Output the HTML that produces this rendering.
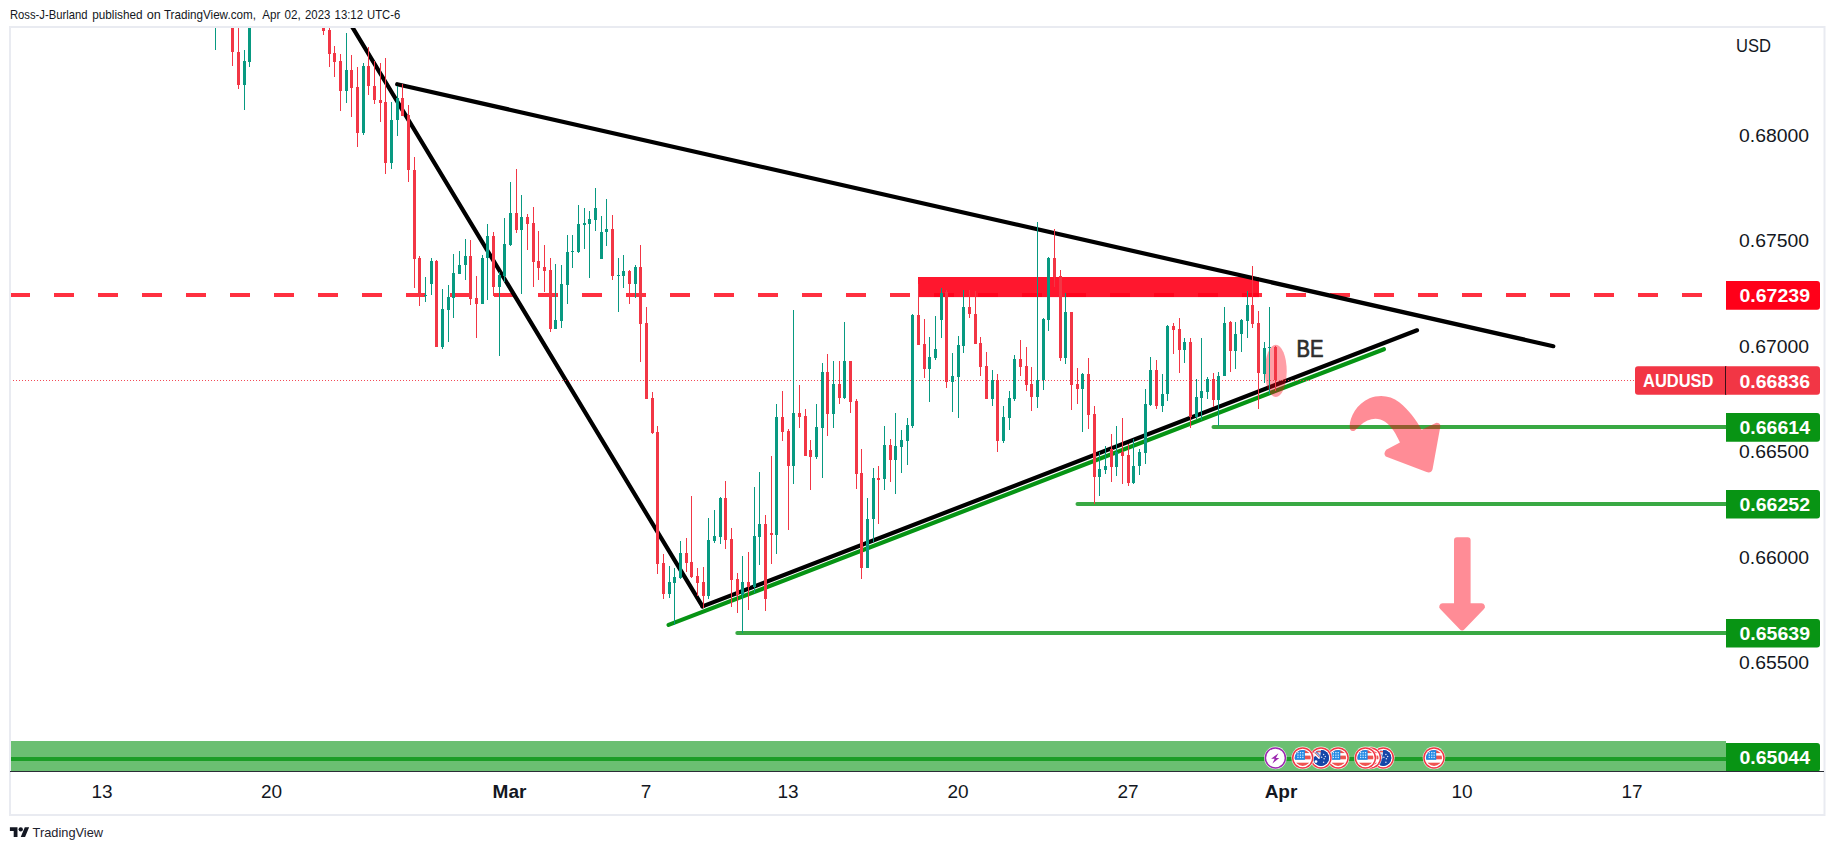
<!DOCTYPE html>
<html lang="en"><head><meta charset="utf-8"><title>AUDUSD chart</title>
<style>html,body{margin:0;padding:0;background:#fff}body{width:1834px;height:850px;overflow:hidden}svg{display:block}text{font-family:"Liberation Sans", Arial, sans-serif}</style></head><body>
<svg width="1834" height="850" viewBox="0 0 1834 850">
<rect width="1834" height="850" fill="#fff"/>
<defs><clipPath id="cp"><rect x="11" y="28" width="1715" height="743"/></clipPath><clipPath id="cl"><rect x="1620" y="28" width="203" height="743"/></clipPath><clipPath id="fc"><circle r="8"/></clipPath></defs>
<text x="10.0" y="19.4" font-size="13" fill="#131722" textLength="77.5" lengthAdjust="spacingAndGlyphs">Ross-J-Burland</text>
<text x="92.2" y="19.4" font-size="13" fill="#131722" textLength="50.3" lengthAdjust="spacingAndGlyphs">published</text>
<text x="146.7" y="19.4" font-size="13" fill="#131722" textLength="14.1" lengthAdjust="spacingAndGlyphs">on</text>
<text x="163.9" y="19.4" font-size="13" fill="#131722" textLength="92.0" lengthAdjust="spacingAndGlyphs">TradingView.com,</text>
<text x="262.3" y="19.4" font-size="13" fill="#131722" textLength="18.0" lengthAdjust="spacingAndGlyphs">Apr</text>
<text x="284.5" y="19.4" font-size="13" fill="#131722" textLength="16.2" lengthAdjust="spacingAndGlyphs">02,</text>
<text x="305.0" y="19.4" font-size="13" fill="#131722" textLength="25.3" lengthAdjust="spacingAndGlyphs">2023</text>
<text x="334.6" y="19.4" font-size="13" fill="#131722" textLength="28.4" lengthAdjust="spacingAndGlyphs">13:12</text>
<text x="367.0" y="19.4" font-size="13" fill="#131722" textLength="33.2" lengthAdjust="spacingAndGlyphs">UTC-6</text>
<rect x="10" y="27" width="1814.5" height="788" fill="none" stroke="#e9ebf1" stroke-width="2"/>
<g clip-path="url(#cp)">
<rect x="10.5" y="741" width="1716" height="30" fill="#6bbf72"/>
<rect x="10.5" y="757" width="1716" height="4" fill="#1c9d27"/>
<line x1="10" y1="295" x2="1703" y2="295" stroke="#ff3040" stroke-width="4" stroke-dasharray="20 24"/>
<rect x="918" y="277" width="341" height="20.1" fill="rgba(255,0,25,0.91)"/>
<g fill="none" stroke-linecap="round">
<line x1="338.7" y1="4.6" x2="702.5" y2="606.4" stroke="#000" stroke-width="4.2"/>
<line x1="702.5" y1="606.4" x2="1417" y2="330.3" stroke="#000" stroke-width="4.2"/>
<line x1="397.2" y1="84.2" x2="1553.3" y2="346.2" stroke="#000" stroke-width="4.2"/>
<line x1="668.6" y1="624.9" x2="1383.9" y2="349.2" stroke="#069414" stroke-width="4.2"/>
</g>
<g stroke="#39a943" stroke-width="4" stroke-linecap="round">
<line x1="1213.5" y1="427" x2="1727" y2="427"/>
<line x1="1077.5" y1="504" x2="1727" y2="504"/>
<line x1="737.3" y1="633" x2="1727" y2="633"/>
</g>
<ellipse cx="1275.8" cy="370.9" rx="10.9" ry="26.2" fill="rgba(255,0,22,0.38)"/>
<line x1="10" y1="380.5" x2="1636" y2="380.5" stroke="#f23645" stroke-width="1" stroke-dasharray="1 2" stroke-opacity="0.9"/>
<g shape-rendering="crispEdges">
<rect x="215" y="20" width="1" height="30" fill="#089981"/>
<rect x="214" y="20" width="3" height="1" fill="#089981"/>
<rect x="232" y="20" width="1" height="46" fill="#f23645"/>
<rect x="231" y="20" width="3" height="32" fill="#f23645"/>
<rect x="238" y="20" width="1" height="69" fill="#f23645"/>
<rect x="237" y="52" width="3" height="33" fill="#f23645"/>
<rect x="244" y="50" width="1" height="60" fill="#089981"/>
<rect x="243" y="61" width="3" height="24" fill="#089981"/>
<rect x="249" y="20" width="1" height="47" fill="#089981"/>
<rect x="248" y="20" width="3" height="42" fill="#089981"/>
<rect x="323" y="20" width="1" height="15" fill="#f23645"/>
<rect x="322" y="20" width="3" height="11" fill="#f23645"/>
<rect x="329" y="20" width="1" height="47" fill="#f23645"/>
<rect x="328" y="30" width="3" height="24" fill="#f23645"/>
<rect x="334" y="46" width="1" height="31" fill="#f23645"/>
<rect x="333" y="53" width="3" height="9" fill="#f23645"/>
<rect x="340" y="54" width="1" height="57" fill="#f23645"/>
<rect x="339" y="61" width="3" height="30" fill="#f23645"/>
<rect x="346" y="33" width="1" height="70" fill="#089981"/>
<rect x="345" y="70" width="3" height="21" fill="#089981"/>
<rect x="351" y="55" width="1" height="62" fill="#f23645"/>
<rect x="350" y="70" width="3" height="18" fill="#f23645"/>
<rect x="357" y="67" width="1" height="80" fill="#f23645"/>
<rect x="356" y="87" width="3" height="46" fill="#f23645"/>
<rect x="363" y="63" width="1" height="72" fill="#089981"/>
<rect x="362" y="66" width="3" height="67" fill="#089981"/>
<rect x="368" y="47" width="1" height="48" fill="#f23645"/>
<rect x="367" y="66" width="3" height="20" fill="#f23645"/>
<rect x="374" y="61" width="1" height="43" fill="#f23645"/>
<rect x="373" y="86" width="3" height="14" fill="#f23645"/>
<rect x="380" y="63" width="1" height="59" fill="#f23645"/>
<rect x="379" y="100" width="3" height="3" fill="#f23645"/>
<rect x="385" y="58" width="1" height="116" fill="#f23645"/>
<rect x="384" y="102" width="3" height="61" fill="#f23645"/>
<rect x="391" y="102" width="1" height="67" fill="#089981"/>
<rect x="390" y="120" width="3" height="43" fill="#089981"/>
<rect x="397" y="86" width="1" height="50" fill="#089981"/>
<rect x="396" y="98" width="3" height="22" fill="#089981"/>
<rect x="402" y="84" width="1" height="32" fill="#f23645"/>
<rect x="401" y="98" width="3" height="18" fill="#f23645"/>
<rect x="408" y="105" width="1" height="77" fill="#f23645"/>
<rect x="407" y="115" width="3" height="55" fill="#f23645"/>
<rect x="414" y="157" width="1" height="131" fill="#f23645"/>
<rect x="413" y="170" width="3" height="89" fill="#f23645"/>
<rect x="419" y="256" width="1" height="50" fill="#f23645"/>
<rect x="418" y="258" width="3" height="38" fill="#f23645"/>
<rect x="425" y="277" width="1" height="25" fill="#089981"/>
<rect x="424" y="295" width="3" height="1" fill="#089981"/>
<rect x="431" y="258" width="1" height="37" fill="#089981"/>
<rect x="430" y="261" width="3" height="23" fill="#089981"/>
<rect x="436" y="260" width="1" height="87" fill="#f23645"/>
<rect x="435" y="261" width="3" height="86" fill="#f23645"/>
<rect x="442" y="289" width="1" height="60" fill="#089981"/>
<rect x="441" y="309" width="3" height="38" fill="#089981"/>
<rect x="448" y="285" width="1" height="57" fill="#089981"/>
<rect x="447" y="297" width="3" height="13" fill="#089981"/>
<rect x="453" y="254" width="1" height="64" fill="#089981"/>
<rect x="452" y="273" width="3" height="25" fill="#089981"/>
<rect x="459" y="251" width="1" height="23" fill="#089981"/>
<rect x="458" y="265" width="3" height="9" fill="#089981"/>
<rect x="465" y="239" width="1" height="41" fill="#089981"/>
<rect x="464" y="256" width="3" height="9" fill="#089981"/>
<rect x="470" y="240" width="1" height="65" fill="#f23645"/>
<rect x="469" y="256" width="3" height="43" fill="#f23645"/>
<rect x="476" y="276" width="1" height="62" fill="#f23645"/>
<rect x="475" y="298" width="3" height="6" fill="#f23645"/>
<rect x="482" y="255" width="1" height="49" fill="#089981"/>
<rect x="481" y="258" width="3" height="46" fill="#089981"/>
<rect x="487" y="224" width="1" height="76" fill="#089981"/>
<rect x="486" y="236" width="3" height="22" fill="#089981"/>
<rect x="493" y="232" width="1" height="64" fill="#f23645"/>
<rect x="492" y="236" width="3" height="51" fill="#f23645"/>
<rect x="499" y="272" width="1" height="84" fill="#089981"/>
<rect x="498" y="275" width="3" height="12" fill="#089981"/>
<rect x="504" y="218" width="1" height="64" fill="#089981"/>
<rect x="503" y="244" width="3" height="32" fill="#089981"/>
<rect x="510" y="182" width="1" height="64" fill="#089981"/>
<rect x="509" y="213" width="3" height="32" fill="#089981"/>
<rect x="516" y="169" width="1" height="64" fill="#f23645"/>
<rect x="515" y="213" width="3" height="17" fill="#f23645"/>
<rect x="521" y="195" width="1" height="99" fill="#089981"/>
<rect x="520" y="217" width="3" height="13" fill="#089981"/>
<rect x="527" y="214" width="1" height="36" fill="#f23645"/>
<rect x="526" y="217" width="3" height="7" fill="#f23645"/>
<rect x="533" y="207" width="1" height="80" fill="#f23645"/>
<rect x="532" y="223" width="3" height="39" fill="#f23645"/>
<rect x="538" y="231" width="1" height="49" fill="#f23645"/>
<rect x="537" y="261" width="3" height="7" fill="#f23645"/>
<rect x="544" y="245" width="1" height="47" fill="#f23645"/>
<rect x="543" y="267" width="3" height="4" fill="#f23645"/>
<rect x="550" y="258" width="1" height="74" fill="#f23645"/>
<rect x="549" y="270" width="3" height="59" fill="#f23645"/>
<rect x="555" y="264" width="1" height="65" fill="#089981"/>
<rect x="554" y="320" width="3" height="9" fill="#089981"/>
<rect x="561" y="265" width="1" height="63" fill="#089981"/>
<rect x="560" y="284" width="3" height="37" fill="#089981"/>
<rect x="567" y="235" width="1" height="69" fill="#089981"/>
<rect x="566" y="252" width="3" height="33" fill="#089981"/>
<rect x="572" y="235" width="1" height="33" fill="#089981"/>
<rect x="571" y="251" width="3" height="1" fill="#089981"/>
<rect x="578" y="205" width="1" height="48" fill="#089981"/>
<rect x="577" y="224" width="3" height="28" fill="#089981"/>
<rect x="584" y="208" width="1" height="41" fill="#089981"/>
<rect x="583" y="223" width="3" height="2" fill="#089981"/>
<rect x="589" y="211" width="1" height="67" fill="#089981"/>
<rect x="588" y="219" width="3" height="5" fill="#089981"/>
<rect x="595" y="188" width="1" height="43" fill="#089981"/>
<rect x="594" y="208" width="3" height="12" fill="#089981"/>
<rect x="601" y="216" width="1" height="43" fill="#089981"/>
<rect x="600" y="232" width="3" height="27" fill="#089981"/>
<rect x="606" y="199" width="1" height="47" fill="#089981"/>
<rect x="605" y="229" width="3" height="3" fill="#089981"/>
<rect x="612" y="215" width="1" height="65" fill="#f23645"/>
<rect x="611" y="229" width="3" height="47" fill="#f23645"/>
<rect x="618" y="258" width="1" height="54" fill="#089981"/>
<rect x="617" y="275" width="3" height="1" fill="#089981"/>
<rect x="623" y="255" width="1" height="33" fill="#089981"/>
<rect x="622" y="271" width="3" height="5" fill="#089981"/>
<rect x="629" y="270" width="1" height="34" fill="#f23645"/>
<rect x="628" y="271" width="3" height="13" fill="#f23645"/>
<rect x="635" y="265" width="1" height="33" fill="#089981"/>
<rect x="634" y="267" width="3" height="17" fill="#089981"/>
<rect x="640" y="245" width="1" height="117" fill="#f23645"/>
<rect x="639" y="267" width="3" height="57" fill="#f23645"/>
<rect x="646" y="307" width="1" height="92" fill="#f23645"/>
<rect x="645" y="323" width="3" height="76" fill="#f23645"/>
<rect x="652" y="392" width="1" height="42" fill="#f23645"/>
<rect x="651" y="398" width="3" height="35" fill="#f23645"/>
<rect x="657" y="426" width="1" height="148" fill="#f23645"/>
<rect x="656" y="432" width="3" height="132" fill="#f23645"/>
<rect x="663" y="554" width="1" height="45" fill="#f23645"/>
<rect x="662" y="563" width="3" height="31" fill="#f23645"/>
<rect x="669" y="566" width="1" height="32" fill="#089981"/>
<rect x="668" y="582" width="3" height="12" fill="#089981"/>
<rect x="674" y="568" width="1" height="57" fill="#089981"/>
<rect x="673" y="577" width="3" height="6" fill="#089981"/>
<rect x="680" y="541" width="1" height="38" fill="#089981"/>
<rect x="679" y="553" width="3" height="25" fill="#089981"/>
<rect x="686" y="538" width="1" height="34" fill="#f23645"/>
<rect x="685" y="553" width="3" height="10" fill="#f23645"/>
<rect x="691" y="496" width="1" height="82" fill="#f23645"/>
<rect x="690" y="562" width="3" height="15" fill="#f23645"/>
<rect x="697" y="568" width="1" height="28" fill="#f23645"/>
<rect x="696" y="576" width="3" height="7" fill="#f23645"/>
<rect x="703" y="567" width="1" height="41" fill="#f23645"/>
<rect x="702" y="582" width="3" height="14" fill="#f23645"/>
<rect x="708" y="518" width="1" height="81" fill="#089981"/>
<rect x="707" y="540" width="3" height="56" fill="#089981"/>
<rect x="714" y="510" width="1" height="33" fill="#089981"/>
<rect x="713" y="536" width="3" height="5" fill="#089981"/>
<rect x="720" y="497" width="1" height="47" fill="#089981"/>
<rect x="719" y="498" width="3" height="39" fill="#089981"/>
<rect x="725" y="481" width="1" height="68" fill="#f23645"/>
<rect x="724" y="498" width="3" height="42" fill="#f23645"/>
<rect x="731" y="528" width="1" height="79" fill="#f23645"/>
<rect x="730" y="539" width="3" height="41" fill="#f23645"/>
<rect x="737" y="573" width="1" height="40" fill="#f23645"/>
<rect x="736" y="579" width="3" height="16" fill="#f23645"/>
<rect x="742" y="556" width="1" height="77" fill="#089981"/>
<rect x="741" y="582" width="3" height="13" fill="#089981"/>
<rect x="748" y="552" width="1" height="58" fill="#f23645"/>
<rect x="747" y="582" width="3" height="5" fill="#f23645"/>
<rect x="754" y="487" width="1" height="106" fill="#089981"/>
<rect x="753" y="536" width="3" height="51" fill="#089981"/>
<rect x="759" y="472" width="1" height="93" fill="#089981"/>
<rect x="758" y="524" width="3" height="13" fill="#089981"/>
<rect x="765" y="515" width="1" height="96" fill="#f23645"/>
<rect x="764" y="524" width="3" height="75" fill="#f23645"/>
<rect x="771" y="456" width="1" height="108" fill="#f23645"/>
<rect x="770" y="533" width="3" height="2" fill="#f23645"/>
<rect x="776" y="404" width="1" height="150" fill="#089981"/>
<rect x="775" y="417" width="3" height="118" fill="#089981"/>
<rect x="782" y="391" width="1" height="50" fill="#f23645"/>
<rect x="781" y="417" width="3" height="15" fill="#f23645"/>
<rect x="788" y="429" width="1" height="101" fill="#f23645"/>
<rect x="787" y="431" width="3" height="35" fill="#f23645"/>
<rect x="793" y="310" width="1" height="174" fill="#089981"/>
<rect x="792" y="413" width="3" height="53" fill="#089981"/>
<rect x="799" y="385" width="1" height="43" fill="#f23645"/>
<rect x="798" y="413" width="3" height="4" fill="#f23645"/>
<rect x="805" y="409" width="1" height="47" fill="#f23645"/>
<rect x="804" y="416" width="3" height="40" fill="#f23645"/>
<rect x="810" y="440" width="1" height="50" fill="#f23645"/>
<rect x="809" y="450" width="3" height="7" fill="#f23645"/>
<rect x="816" y="404" width="1" height="55" fill="#089981"/>
<rect x="815" y="427" width="3" height="30" fill="#089981"/>
<rect x="822" y="363" width="1" height="115" fill="#089981"/>
<rect x="821" y="372" width="3" height="56" fill="#089981"/>
<rect x="827" y="354" width="1" height="82" fill="#f23645"/>
<rect x="826" y="372" width="3" height="42" fill="#f23645"/>
<rect x="833" y="361" width="1" height="67" fill="#089981"/>
<rect x="832" y="384" width="3" height="30" fill="#089981"/>
<rect x="839" y="361" width="1" height="43" fill="#f23645"/>
<rect x="838" y="384" width="3" height="14" fill="#f23645"/>
<rect x="844" y="322" width="1" height="77" fill="#089981"/>
<rect x="843" y="361" width="3" height="37" fill="#089981"/>
<rect x="850" y="361" width="1" height="52" fill="#f23645"/>
<rect x="849" y="361" width="3" height="41" fill="#f23645"/>
<rect x="856" y="399" width="1" height="90" fill="#f23645"/>
<rect x="855" y="401" width="3" height="73" fill="#f23645"/>
<rect x="861" y="449" width="1" height="130" fill="#f23645"/>
<rect x="860" y="473" width="3" height="95" fill="#f23645"/>
<rect x="867" y="498" width="1" height="70" fill="#089981"/>
<rect x="866" y="519" width="3" height="49" fill="#089981"/>
<rect x="873" y="468" width="1" height="74" fill="#089981"/>
<rect x="872" y="478" width="3" height="41" fill="#089981"/>
<rect x="878" y="466" width="1" height="58" fill="#f23645"/>
<rect x="877" y="478" width="3" height="2" fill="#f23645"/>
<rect x="884" y="426" width="1" height="64" fill="#089981"/>
<rect x="883" y="445" width="3" height="34" fill="#089981"/>
<rect x="890" y="439" width="1" height="43" fill="#f23645"/>
<rect x="889" y="445" width="3" height="15" fill="#f23645"/>
<rect x="895" y="413" width="1" height="81" fill="#089981"/>
<rect x="894" y="446" width="3" height="14" fill="#089981"/>
<rect x="901" y="430" width="1" height="43" fill="#089981"/>
<rect x="900" y="440" width="3" height="7" fill="#089981"/>
<rect x="907" y="418" width="1" height="47" fill="#089981"/>
<rect x="906" y="425" width="3" height="16" fill="#089981"/>
<rect x="912" y="314" width="1" height="114" fill="#089981"/>
<rect x="911" y="315" width="3" height="111" fill="#089981"/>
<rect x="918" y="284" width="1" height="61" fill="#f23645"/>
<rect x="917" y="315" width="3" height="30" fill="#f23645"/>
<rect x="924" y="319" width="1" height="59" fill="#f23645"/>
<rect x="923" y="344" width="3" height="25" fill="#f23645"/>
<rect x="929" y="337" width="1" height="65" fill="#089981"/>
<rect x="928" y="357" width="3" height="12" fill="#089981"/>
<rect x="935" y="316" width="1" height="44" fill="#089981"/>
<rect x="934" y="349" width="3" height="9" fill="#089981"/>
<rect x="941" y="288" width="1" height="50" fill="#089981"/>
<rect x="940" y="293" width="3" height="27" fill="#089981"/>
<rect x="946" y="290" width="1" height="98" fill="#f23645"/>
<rect x="945" y="292" width="3" height="90" fill="#f23645"/>
<rect x="952" y="353" width="1" height="59" fill="#089981"/>
<rect x="951" y="376" width="3" height="6" fill="#089981"/>
<rect x="958" y="336" width="1" height="82" fill="#089981"/>
<rect x="957" y="345" width="3" height="32" fill="#089981"/>
<rect x="963" y="290" width="1" height="63" fill="#089981"/>
<rect x="962" y="307" width="3" height="39" fill="#089981"/>
<rect x="969" y="290" width="1" height="28" fill="#f23645"/>
<rect x="968" y="307" width="3" height="7" fill="#f23645"/>
<rect x="975" y="291" width="1" height="53" fill="#f23645"/>
<rect x="974" y="314" width="3" height="30" fill="#f23645"/>
<rect x="980" y="337" width="1" height="39" fill="#f23645"/>
<rect x="979" y="343" width="3" height="24" fill="#f23645"/>
<rect x="986" y="352" width="1" height="47" fill="#f23645"/>
<rect x="985" y="366" width="3" height="33" fill="#f23645"/>
<rect x="992" y="370" width="1" height="36" fill="#089981"/>
<rect x="991" y="380" width="3" height="19" fill="#089981"/>
<rect x="997" y="374" width="1" height="78" fill="#f23645"/>
<rect x="996" y="380" width="3" height="61" fill="#f23645"/>
<rect x="1003" y="406" width="1" height="37" fill="#089981"/>
<rect x="1002" y="417" width="3" height="24" fill="#089981"/>
<rect x="1009" y="391" width="1" height="39" fill="#089981"/>
<rect x="1008" y="398" width="3" height="20" fill="#089981"/>
<rect x="1014" y="355" width="1" height="46" fill="#089981"/>
<rect x="1013" y="359" width="3" height="40" fill="#089981"/>
<rect x="1020" y="340" width="1" height="36" fill="#f23645"/>
<rect x="1019" y="359" width="3" height="8" fill="#f23645"/>
<rect x="1026" y="347" width="1" height="44" fill="#f23645"/>
<rect x="1025" y="366" width="3" height="19" fill="#f23645"/>
<rect x="1031" y="367" width="1" height="44" fill="#f23645"/>
<rect x="1030" y="384" width="3" height="13" fill="#f23645"/>
<rect x="1037" y="222" width="1" height="186" fill="#089981"/>
<rect x="1036" y="380" width="3" height="17" fill="#089981"/>
<rect x="1043" y="318" width="1" height="72" fill="#089981"/>
<rect x="1042" y="319" width="3" height="61" fill="#089981"/>
<rect x="1048" y="257" width="1" height="74" fill="#089981"/>
<rect x="1047" y="258" width="3" height="62" fill="#089981"/>
<rect x="1054" y="229" width="1" height="58" fill="#f23645"/>
<rect x="1053" y="258" width="3" height="19" fill="#f23645"/>
<rect x="1060" y="270" width="1" height="91" fill="#f23645"/>
<rect x="1059" y="276" width="3" height="82" fill="#f23645"/>
<rect x="1065" y="293" width="1" height="71" fill="#089981"/>
<rect x="1064" y="312" width="3" height="46" fill="#089981"/>
<rect x="1071" y="312" width="1" height="98" fill="#f23645"/>
<rect x="1070" y="312" width="3" height="73" fill="#f23645"/>
<rect x="1077" y="368" width="1" height="36" fill="#f23645"/>
<rect x="1076" y="384" width="3" height="5" fill="#f23645"/>
<rect x="1082" y="373" width="1" height="59" fill="#089981"/>
<rect x="1081" y="374" width="3" height="15" fill="#089981"/>
<rect x="1088" y="358" width="1" height="71" fill="#f23645"/>
<rect x="1087" y="374" width="3" height="41" fill="#f23645"/>
<rect x="1094" y="406" width="1" height="98" fill="#f23645"/>
<rect x="1093" y="414" width="3" height="63" fill="#f23645"/>
<rect x="1099" y="452" width="1" height="44" fill="#089981"/>
<rect x="1098" y="469" width="3" height="8" fill="#089981"/>
<rect x="1105" y="446" width="1" height="28" fill="#089981"/>
<rect x="1104" y="466" width="3" height="4" fill="#089981"/>
<rect x="1111" y="434" width="1" height="48" fill="#f23645"/>
<rect x="1110" y="449" width="3" height="18" fill="#f23645"/>
<rect x="1116" y="426" width="1" height="50" fill="#089981"/>
<rect x="1115" y="452" width="3" height="15" fill="#089981"/>
<rect x="1122" y="418" width="1" height="66" fill="#f23645"/>
<rect x="1121" y="452" width="3" height="4" fill="#f23645"/>
<rect x="1128" y="444" width="1" height="42" fill="#f23645"/>
<rect x="1127" y="455" width="3" height="28" fill="#f23645"/>
<rect x="1133" y="439" width="1" height="45" fill="#089981"/>
<rect x="1132" y="466" width="3" height="17" fill="#089981"/>
<rect x="1139" y="449" width="1" height="26" fill="#089981"/>
<rect x="1138" y="452" width="3" height="14" fill="#089981"/>
<rect x="1145" y="389" width="1" height="75" fill="#089981"/>
<rect x="1144" y="404" width="3" height="49" fill="#089981"/>
<rect x="1150" y="357" width="1" height="49" fill="#089981"/>
<rect x="1149" y="370" width="3" height="35" fill="#089981"/>
<rect x="1156" y="360" width="1" height="49" fill="#f23645"/>
<rect x="1155" y="370" width="3" height="36" fill="#f23645"/>
<rect x="1162" y="374" width="1" height="38" fill="#089981"/>
<rect x="1161" y="394" width="3" height="12" fill="#089981"/>
<rect x="1167" y="325" width="1" height="76" fill="#089981"/>
<rect x="1166" y="326" width="3" height="68" fill="#089981"/>
<rect x="1173" y="323" width="1" height="31" fill="#f23645"/>
<rect x="1172" y="326" width="3" height="4" fill="#f23645"/>
<rect x="1179" y="318" width="1" height="55" fill="#f23645"/>
<rect x="1178" y="329" width="3" height="21" fill="#f23645"/>
<rect x="1184" y="338" width="1" height="25" fill="#089981"/>
<rect x="1183" y="342" width="3" height="8" fill="#089981"/>
<rect x="1190" y="338" width="1" height="90" fill="#f23645"/>
<rect x="1189" y="342" width="3" height="75" fill="#f23645"/>
<rect x="1196" y="379" width="1" height="40" fill="#089981"/>
<rect x="1195" y="397" width="3" height="20" fill="#089981"/>
<rect x="1201" y="338" width="1" height="82" fill="#089981"/>
<rect x="1200" y="391" width="3" height="7" fill="#089981"/>
<rect x="1207" y="377" width="1" height="22" fill="#089981"/>
<rect x="1206" y="379" width="3" height="13" fill="#089981"/>
<rect x="1213" y="373" width="1" height="34" fill="#f23645"/>
<rect x="1212" y="379" width="3" height="21" fill="#f23645"/>
<rect x="1218" y="372" width="1" height="54" fill="#089981"/>
<rect x="1217" y="376" width="3" height="24" fill="#089981"/>
<rect x="1224" y="307" width="1" height="69" fill="#089981"/>
<rect x="1223" y="323" width="3" height="53" fill="#089981"/>
<rect x="1230" y="321" width="1" height="51" fill="#f23645"/>
<rect x="1229" y="322" width="3" height="29" fill="#f23645"/>
<rect x="1235" y="322" width="1" height="47" fill="#089981"/>
<rect x="1234" y="334" width="3" height="17" fill="#089981"/>
<rect x="1241" y="319" width="1" height="33" fill="#089981"/>
<rect x="1240" y="320" width="3" height="14" fill="#089981"/>
<rect x="1247" y="291" width="1" height="47" fill="#089981"/>
<rect x="1246" y="305" width="3" height="16" fill="#089981"/>
<rect x="1252" y="266" width="1" height="62" fill="#f23645"/>
<rect x="1251" y="305" width="3" height="19" fill="#f23645"/>
<rect x="1258" y="311" width="1" height="98" fill="#f23645"/>
<rect x="1257" y="323" width="3" height="50" fill="#f23645"/>
<rect x="1264" y="342" width="1" height="41" fill="#089981"/>
<rect x="1263" y="348" width="3" height="26" fill="#089981"/>
<rect x="1269" y="307" width="1" height="87" fill="#089981"/>
<rect x="1268" y="347" width="3" height="1" fill="#089981"/>
<rect x="1275" y="346" width="1" height="45" fill="#f23645"/>
<rect x="1274" y="347" width="3" height="33" fill="#f23645"/>
</g>
<text x="1296.5" y="356.6" font-size="23" fill="#2d2d2d" stroke="#2d2d2d" stroke-width="0.7" textLength="27" lengthAdjust="spacingAndGlyphs">BE</text>
<path transform="translate(1300,370) scale(0.14177)" d="M350 400 C352 330 400 240 490 200 C560 172 640 180 700 228 C770 285 815 345 858 422 L962 372 Q992 372 990 398 L935 700 Q925 730 893 720 L605 610 Q585 590 608 562 L705 512 C680 455 650 400 600 365 C545 330 480 340 420 395 L385 428 Q352 440 350 400 Z" fill="rgba(255,0,22,0.45)"/>
<path d="M1457 537.3 h10.6 a3 3 0 0 1 3 3 v63 h11 a3.4 3.4 0 0 1 2.4 5.8 l-19.5 20.2 a3.4 3.4 0 0 1 -4.8 0 l-19.5 -20.2 a3.4 3.4 0 0 1 2.4 -5.8 h11.4 v-63 a3 3 0 0 1 3 -3 z" fill="rgba(255,0,22,0.45)"/>
</g>
<rect x="10" y="771" width="1814" height="1" fill="#2a2d36"/>
<g transform="translate(1434.0,757.9)"><circle r="11.3" fill="#fff" fill-opacity="0.85"/><circle r="10" fill="#fff" stroke="#f23645" stroke-width="1.5"/><g clip-path="url(#fc)"><rect x="-9" y="-9" width="18" height="18" fill="#fff"/><rect x="-9" y="-8.2" width="18" height="3.4" fill="#ef5350"/><rect x="-9" y="-2.3" width="18" height="3.7" fill="#ef5350"/><rect x="-9" y="4.8" width="18" height="4.2" fill="#ef5350"/><rect x="-9" y="-9" width="11.2" height="10.9" fill="#1e88e5"/><rect x="-5.4" y="-5.9" width="1.3" height="1.3" fill="#d6e9fb"/><rect x="-5.4" y="-3.4" width="1.3" height="1.3" fill="#d6e9fb"/><rect x="-5.4" y="-1.1" width="1.3" height="1.3" fill="#d6e9fb"/><rect x="-2.9" y="-5.9" width="1.3" height="1.3" fill="#d6e9fb"/><rect x="-2.9" y="-3.4" width="1.3" height="1.3" fill="#d6e9fb"/><rect x="-2.9" y="-1.1" width="1.3" height="1.3" fill="#d6e9fb"/><rect x="-0.5" y="-5.9" width="1.3" height="1.3" fill="#d6e9fb"/><rect x="-0.5" y="-3.4" width="1.3" height="1.3" fill="#d6e9fb"/><rect x="-0.5" y="-1.1" width="1.3" height="1.3" fill="#d6e9fb"/></g></g>
<g transform="translate(1383.3,757.9)"><circle r="11.3" fill="#fff" fill-opacity="0.85"/><circle r="10" fill="#fff" stroke="#f23645" stroke-width="1.5"/><g clip-path="url(#fc)"><rect x="-9" y="-9" width="18" height="18" fill="#1546a8"/><rect x="-9" y="-9" width="9" height="9" fill="#eef1f8"/><rect x="-9" y="-7" width="9" height="1.4" fill="#ef5350"/><path d="M-9 -9 h3 L0 -2 v2.5 h-2.5 L-9 -6 z" fill="#1546a8" opacity="0.55"/><path d="M-7.5 -5.5 L-1 1" stroke="#fff" stroke-width="2.2"/><path d="M-7 -5.6 L-1.4 0" stroke="#ef5350" stroke-width="1"/><path d="M-9 0.2 L-4.5 -2.5 L-1 1.2 L0 -9 L9 -9 L9 9 L-9 9 Z" fill="#1546a8"/><path d="M-7.5 -5.5 L-1.6 0.4" stroke="#fff" stroke-width="2"/><path d="M-7 -5.8 L-1.6 -0.4" stroke="#ef5350" stroke-width="0.9"/><circle cx="-5" cy="3.7" r="1.4" fill="#fff"/><circle cx="2.6" cy="-3.3" r="0.75" fill="#dfe6f5"/><circle cx="4.3" cy="-1.3" r="0.75" fill="#dfe6f5"/><circle cx="3.1" cy="0.9" r="0.75" fill="#dfe6f5"/><circle cx="2.6" cy="4.3" r="0.75" fill="#dfe6f5"/><circle cx="0.6" cy="-0.6" r="0.75" fill="#dfe6f5"/></g></g>
<g transform="translate(1370.5,757.9)"><circle r="11.3" fill="#fff" fill-opacity="0.85"/><circle r="10" fill="#fff" stroke="#f23645" stroke-width="1.5"/><g clip-path="url(#fc)"><rect x="-9" y="-9" width="18" height="18" fill="#fff"/><rect x="-9" y="-8.2" width="18" height="3.4" fill="#ef5350"/><rect x="-9" y="-2.3" width="18" height="3.7" fill="#ef5350"/><rect x="-9" y="4.8" width="18" height="4.2" fill="#ef5350"/><rect x="-9" y="-9" width="11.2" height="10.9" fill="#1e88e5"/><rect x="-5.4" y="-5.9" width="1.3" height="1.3" fill="#d6e9fb"/><rect x="-5.4" y="-3.4" width="1.3" height="1.3" fill="#d6e9fb"/><rect x="-5.4" y="-1.1" width="1.3" height="1.3" fill="#d6e9fb"/><rect x="-2.9" y="-5.9" width="1.3" height="1.3" fill="#d6e9fb"/><rect x="-2.9" y="-3.4" width="1.3" height="1.3" fill="#d6e9fb"/><rect x="-2.9" y="-1.1" width="1.3" height="1.3" fill="#d6e9fb"/><rect x="-0.5" y="-5.9" width="1.3" height="1.3" fill="#d6e9fb"/><rect x="-0.5" y="-3.4" width="1.3" height="1.3" fill="#d6e9fb"/><rect x="-0.5" y="-1.1" width="1.3" height="1.3" fill="#d6e9fb"/></g></g>
<g transform="translate(1365.4,757.9)"><circle r="11.3" fill="#fff" fill-opacity="0.85"/><circle r="10" fill="#fff" stroke="#f23645" stroke-width="1.5"/><g clip-path="url(#fc)"><rect x="-9" y="-9" width="18" height="18" fill="#fff"/><rect x="-9" y="-8.2" width="18" height="3.4" fill="#ef5350"/><rect x="-9" y="-2.3" width="18" height="3.7" fill="#ef5350"/><rect x="-9" y="4.8" width="18" height="4.2" fill="#ef5350"/><rect x="-9" y="-9" width="11.2" height="10.9" fill="#1e88e5"/><rect x="-5.4" y="-5.9" width="1.3" height="1.3" fill="#d6e9fb"/><rect x="-5.4" y="-3.4" width="1.3" height="1.3" fill="#d6e9fb"/><rect x="-5.4" y="-1.1" width="1.3" height="1.3" fill="#d6e9fb"/><rect x="-2.9" y="-5.9" width="1.3" height="1.3" fill="#d6e9fb"/><rect x="-2.9" y="-3.4" width="1.3" height="1.3" fill="#d6e9fb"/><rect x="-2.9" y="-1.1" width="1.3" height="1.3" fill="#d6e9fb"/><rect x="-0.5" y="-5.9" width="1.3" height="1.3" fill="#d6e9fb"/><rect x="-0.5" y="-3.4" width="1.3" height="1.3" fill="#d6e9fb"/><rect x="-0.5" y="-1.1" width="1.3" height="1.3" fill="#d6e9fb"/></g></g>
<g transform="translate(1338.1,757.9)"><circle r="11.3" fill="#fff" fill-opacity="0.85"/><circle r="10" fill="#fff" stroke="#f23645" stroke-width="1.5"/><g clip-path="url(#fc)"><rect x="-9" y="-9" width="18" height="18" fill="#fff"/><rect x="-9" y="-8.2" width="18" height="3.4" fill="#ef5350"/><rect x="-9" y="-2.3" width="18" height="3.7" fill="#ef5350"/><rect x="-9" y="4.8" width="18" height="4.2" fill="#ef5350"/><rect x="-9" y="-9" width="11.2" height="10.9" fill="#1e88e5"/><rect x="-5.4" y="-5.9" width="1.3" height="1.3" fill="#d6e9fb"/><rect x="-5.4" y="-3.4" width="1.3" height="1.3" fill="#d6e9fb"/><rect x="-5.4" y="-1.1" width="1.3" height="1.3" fill="#d6e9fb"/><rect x="-2.9" y="-5.9" width="1.3" height="1.3" fill="#d6e9fb"/><rect x="-2.9" y="-3.4" width="1.3" height="1.3" fill="#d6e9fb"/><rect x="-2.9" y="-1.1" width="1.3" height="1.3" fill="#d6e9fb"/><rect x="-0.5" y="-5.9" width="1.3" height="1.3" fill="#d6e9fb"/><rect x="-0.5" y="-3.4" width="1.3" height="1.3" fill="#d6e9fb"/><rect x="-0.5" y="-1.1" width="1.3" height="1.3" fill="#d6e9fb"/></g></g>
<g transform="translate(1321.0,757.9)"><circle r="11.3" fill="#fff" fill-opacity="0.85"/><circle r="10" fill="#fff" stroke="#f23645" stroke-width="1.5"/><g clip-path="url(#fc)"><rect x="-9" y="-9" width="18" height="18" fill="#1546a8"/><rect x="-9" y="-9" width="9" height="9" fill="#eef1f8"/><rect x="-9" y="-7" width="9" height="1.4" fill="#ef5350"/><path d="M-9 -9 h3 L0 -2 v2.5 h-2.5 L-9 -6 z" fill="#1546a8" opacity="0.55"/><path d="M-7.5 -5.5 L-1 1" stroke="#fff" stroke-width="2.2"/><path d="M-7 -5.6 L-1.4 0" stroke="#ef5350" stroke-width="1"/><path d="M-9 0.2 L-4.5 -2.5 L-1 1.2 L0 -9 L9 -9 L9 9 L-9 9 Z" fill="#1546a8"/><path d="M-7.5 -5.5 L-1.6 0.4" stroke="#fff" stroke-width="2"/><path d="M-7 -5.8 L-1.6 -0.4" stroke="#ef5350" stroke-width="0.9"/><circle cx="-5" cy="3.7" r="1.4" fill="#fff"/><circle cx="2.6" cy="-3.3" r="0.75" fill="#dfe6f5"/><circle cx="4.3" cy="-1.3" r="0.75" fill="#dfe6f5"/><circle cx="3.1" cy="0.9" r="0.75" fill="#dfe6f5"/><circle cx="2.6" cy="4.3" r="0.75" fill="#dfe6f5"/><circle cx="0.6" cy="-0.6" r="0.75" fill="#dfe6f5"/></g></g>
<g transform="translate(1302.7,757.9)"><circle r="11.3" fill="#fff" fill-opacity="0.85"/><circle r="10" fill="#fff" stroke="#f23645" stroke-width="1.5"/><g clip-path="url(#fc)"><rect x="-9" y="-9" width="18" height="18" fill="#fff"/><rect x="-9" y="-8.2" width="18" height="3.4" fill="#ef5350"/><rect x="-9" y="-2.3" width="18" height="3.7" fill="#ef5350"/><rect x="-9" y="4.8" width="18" height="4.2" fill="#ef5350"/><rect x="-9" y="-9" width="11.2" height="10.9" fill="#1e88e5"/><rect x="-5.4" y="-5.9" width="1.3" height="1.3" fill="#d6e9fb"/><rect x="-5.4" y="-3.4" width="1.3" height="1.3" fill="#d6e9fb"/><rect x="-5.4" y="-1.1" width="1.3" height="1.3" fill="#d6e9fb"/><rect x="-2.9" y="-5.9" width="1.3" height="1.3" fill="#d6e9fb"/><rect x="-2.9" y="-3.4" width="1.3" height="1.3" fill="#d6e9fb"/><rect x="-2.9" y="-1.1" width="1.3" height="1.3" fill="#d6e9fb"/><rect x="-0.5" y="-5.9" width="1.3" height="1.3" fill="#d6e9fb"/><rect x="-0.5" y="-3.4" width="1.3" height="1.3" fill="#d6e9fb"/><rect x="-0.5" y="-1.1" width="1.3" height="1.3" fill="#d6e9fb"/></g></g>
<g transform="translate(1275.4,757.9)"><circle r="11.3" fill="#fff" fill-opacity="0.85"/><circle r="10" fill="#fff" stroke="#9c27b0" stroke-width="1.5"/><path d="M3 -4.6 L-4.3 0.9 L-0.7 0.9 L-3 5.6 L3.9 0 L0.5 0 Z" fill="#9c27b0"/></g>
<text x="1736" y="51.8" font-size="19" fill="#131722" textLength="35" lengthAdjust="spacingAndGlyphs">USD</text>
<text x="1739" y="142.0" font-size="19" fill="#131722" textLength="70" lengthAdjust="spacingAndGlyphs">0.68000</text>
<text x="1739" y="247.4" font-size="19" fill="#131722" textLength="70" lengthAdjust="spacingAndGlyphs">0.67500</text>
<text x="1739" y="352.8" font-size="19" fill="#131722" textLength="70" lengthAdjust="spacingAndGlyphs">0.67000</text>
<text x="1739" y="458.2" font-size="19" fill="#131722" textLength="70" lengthAdjust="spacingAndGlyphs">0.66500</text>
<text x="1739" y="563.6" font-size="19" fill="#131722" textLength="70" lengthAdjust="spacingAndGlyphs">0.66000</text>
<text x="1739" y="669.0" font-size="19" fill="#131722" textLength="70" lengthAdjust="spacingAndGlyphs">0.65500</text>
<path d="M1726 281.1 h91 a3 3 0 0 1 3 3 v22.6 a3 3 0 0 1 -3 3 h-91 z" fill="#ff0019"/><text x="1739.5" y="302.4" font-size="19" font-weight="bold" fill="#fff" textLength="70.5" lengthAdjust="spacingAndGlyphs">0.67239</text>
<path d="M1638 366.2 H1727 V394.8 H1638 a3 3 0 0 1 -3 -3 V369.2 a3 3 0 0 1 3 -3 z" fill="#f23645"/>
<path d="M1726 366.2 h91 a3 3 0 0 1 3 3 v22.6 a3 3 0 0 1 -3 3 h-91 z" fill="#f23645"/><text x="1739.5" y="387.5" font-size="19" font-weight="bold" fill="#fff" textLength="70.5" lengthAdjust="spacingAndGlyphs">0.66836</text>
<rect x="1725" y="366.2" width="1" height="28.6" fill="#3a1018"/>
<text x="1643" y="387.4" font-size="19" font-weight="bold" fill="#fff" textLength="70.5" lengthAdjust="spacingAndGlyphs">AUDUSD</text>
<path d="M1726 413.1 h91 a3 3 0 0 1 3 3 v22.6 a3 3 0 0 1 -3 3 h-91 z" fill="#089414"/><text x="1739.5" y="434.4" font-size="19" font-weight="bold" fill="#fff" textLength="70.5" lengthAdjust="spacingAndGlyphs">0.66614</text>
<path d="M1726 489.9 h91 a3 3 0 0 1 3 3 v22.6 a3 3 0 0 1 -3 3 h-91 z" fill="#089414"/><text x="1739.5" y="511.2" font-size="19" font-weight="bold" fill="#fff" textLength="70.5" lengthAdjust="spacingAndGlyphs">0.66252</text>
<path d="M1726 618.9 h91 a3 3 0 0 1 3 3 v22.6 a3 3 0 0 1 -3 3 h-91 z" fill="#089414"/><text x="1739.5" y="640.2" font-size="19" font-weight="bold" fill="#fff" textLength="70.5" lengthAdjust="spacingAndGlyphs">0.65639</text>
<g clip-path="url(#cl)"><path d="M1726 743.1 h91 a3 3 0 0 1 3 3 v22.6 a3 3 0 0 1 -3 3 h-91 z" fill="#089414"/><text x="1739.5" y="764.4" font-size="19" font-weight="bold" fill="#fff" textLength="70.5" lengthAdjust="spacingAndGlyphs">0.65044</text></g>
<rect x="1726" y="771" width="98" height="1" fill="#2a2d36"/>
<text x="102.0" y="798" font-size="19" text-anchor="middle" fill="#131722">13</text>
<text x="271.5" y="798" font-size="19" text-anchor="middle" fill="#131722">20</text>
<text x="509.5" y="798" font-size="19" text-anchor="middle" fill="#131722" font-weight="bold">Mar</text>
<text x="646.0" y="798" font-size="19" text-anchor="middle" fill="#131722">7</text>
<text x="788.0" y="798" font-size="19" text-anchor="middle" fill="#131722">13</text>
<text x="958.0" y="798" font-size="19" text-anchor="middle" fill="#131722">20</text>
<text x="1128.0" y="798" font-size="19" text-anchor="middle" fill="#131722">27</text>
<text x="1281.0" y="798" font-size="19" text-anchor="middle" fill="#131722" font-weight="bold">Apr</text>
<text x="1462.0" y="798" font-size="19" text-anchor="middle" fill="#131722">10</text>
<text x="1632.0" y="798" font-size="19" text-anchor="middle" fill="#131722">17</text>
<g transform="translate(9.9,825) scale(0.5417)" fill="#131722"><path d="M14 22H7V11H0V4h14v18zM28 22h-8l7.5-18h8L28 22z"/><circle cx="20" cy="8" r="4"/></g>
<text x="32.6" y="836.9" font-size="13" fill="#1e222d" textLength="70.5" lengthAdjust="spacingAndGlyphs">TradingView</text>
</svg></body></html>
